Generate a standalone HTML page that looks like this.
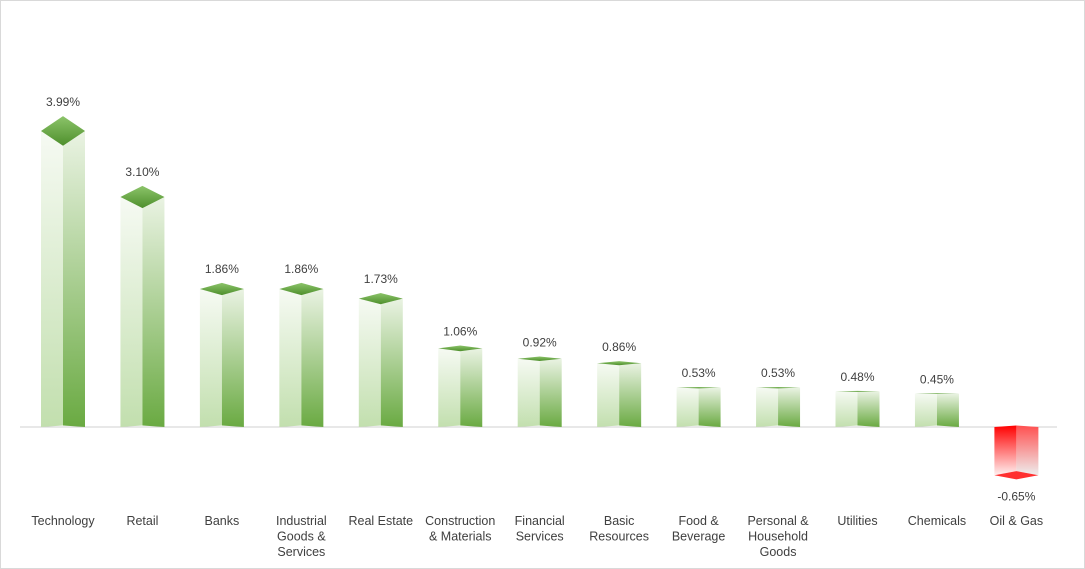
<!DOCTYPE html>
<html><head><meta charset="utf-8"><style>
body{margin:0;background:#fff}
svg{display:block;font-family:"Liberation Sans",Arial,sans-serif}
</style></head><body>
<svg id="chart" width="1085" height="569" viewBox="0 0 1085 569">
<defs>
<linearGradient id="gL" x1="0" y1="0" x2="0" y2="1"><stop offset="0" stop-color="#f6faf3"/><stop offset="1" stop-color="#c2dfae"/></linearGradient>
<linearGradient id="gR" x1="0" y1="0" x2="0" y2="1"><stop offset="0" stop-color="#eaf3e3"/><stop offset="1" stop-color="#6aaa42"/></linearGradient>
<linearGradient id="gT" x1="0" y1="0" x2="0" y2="1"><stop offset="0" stop-color="#8cc46a"/><stop offset="1" stop-color="#4e8f2c"/></linearGradient>
<linearGradient id="rL" x1="0" y1="0" x2="0" y2="1"><stop offset="0" stop-color="#ff0000"/><stop offset="1" stop-color="#fff0f0"/></linearGradient>
<linearGradient id="rR" x1="0" y1="0" x2="0" y2="1"><stop offset="0" stop-color="#ff5050"/><stop offset="1" stop-color="#eeeeee"/></linearGradient>
</defs>
<rect x="0.5" y="0.5" width="1084" height="568" fill="#fff" stroke="#d9d9d9"/>
<line x1="20" y1="427" x2="1057" y2="427" stroke="#d0d0d0" stroke-width="1"/>
<g id="bars"></g>
</svg>
<script>
const categories = [["Technology"],["Retail"],["Banks"],["Industrial","Goods &","Services"],["Real Estate"],["Construction","& Materials"],["Financial","Services"],["Basic","Resources"],["Food &","Beverage"],["Personal &","Household","Goods"],["Utilities"],["Chemicals"],["Oil & Gas"]];
const values = [3.99,3.10,1.86,1.86,1.73,1.06,0.92,0.86,0.53,0.53,0.48,0.45,-0.65];
const labels = ["3.99%","3.10%","1.86%","1.86%","1.73%","1.06%","0.92%","0.86%","0.53%","0.53%","0.48%","0.45%","-0.65%"];

const NS="http://www.w3.org/2000/svg";
const g=document.getElementById('bars');
const base=427, scale=74.2, x0=63, step=79.45, hw=22, eye=400, persp=0.055;
function yS(v){return base - v*scale;}
function xS(i){return x0 + i*step;}
function hh(y){return Math.abs(eye - y)*persp;}
function mk(tag,attrs){const e=document.createElementNS(NS,tag);for(const k in attrs)e.setAttribute(k,attrs[k]);g.appendChild(e);return e;}
values.forEach((v,i)=>{
  const cx=xS(i), yv=yS(v);
  const pos=v>=0;
  const yTop=pos?yv:base, yBot=pos?base:yv;
  const ht=hh(yTop)*(yTop<eye?1:-1), hb=hh(yBot)*(yBot<eye?1:-1);
  const L=pos?'url(#gL)':'url(#rL)', R=pos?'url(#gR)':'url(#rR)';
  const lf=mk('polygon',{points:`${cx-hw},${yTop} ${cx},${yTop+ht} ${cx},${yBot+hb} ${cx-hw},${yBot}`,fill:L});
  
  
  const rf=mk('polygon',{points:`${cx},${yTop+ht} ${cx+hw},${yTop} ${cx+hw},${yBot} ${cx},${yBot+hb}`,fill:R});
  
  
  if(pos){
    const t=mk('polygon',{points:`${cx-hw},${yTop} ${cx},${yTop-ht} ${cx+hw},${yTop} ${cx},${yTop+ht}`,fill:'url(#gT)'});
    
    
  } else {
    const b=mk('polygon',{points:`${cx-hw},${yBot} ${cx},${yBot-hb} ${cx+hw},${yBot} ${cx},${yBot+hb}`,fill:'#ff3030'});
    
    
  }
  const lt=mk('text',{x:cx,y:pos?(yTop-Math.abs(ht)-10):(yBot+Math.abs(hb)+21),'text-anchor':'middle','font-size':'12',fill:'#404040'});
  lt.textContent=labels[i];
  
  
  const ct=mk('text',{x:cx,y:525,'text-anchor':'middle','font-size':'12.5',fill:'#404040'});
  
  
  categories[i].forEach((ln,j)=>{const s=document.createElementNS(NS,'tspan');s.setAttribute('x',cx);s.setAttribute('dy',j?15.5:0);s.textContent=ln;ct.appendChild(s);});
});
</script>
</body></html>
